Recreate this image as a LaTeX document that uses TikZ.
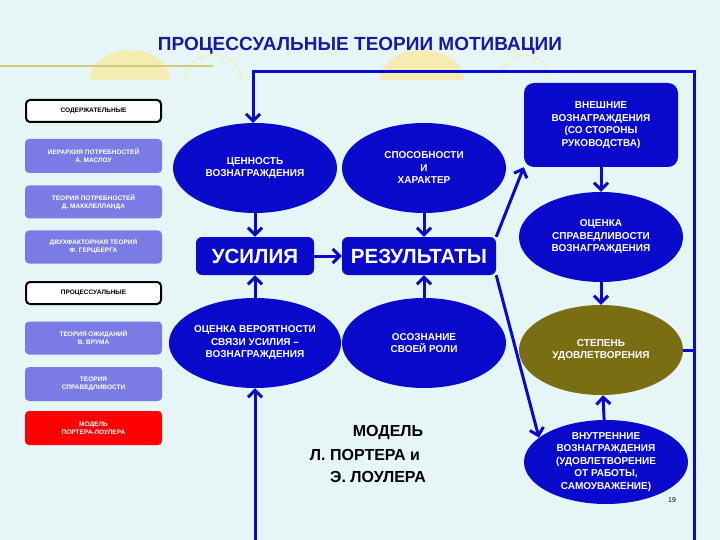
\documentclass[tikz,border=0pt]{standalone}
\usepackage{fontspec}
\setmainfont{Liberation Sans}
\usetikzlibrary{arrows.meta,shapes.geometric}
\definecolor{bg}{HTML}{E6F6F6}
\definecolor{bl}{HTML}{0A0ACC}
\definecolor{lil}{HTML}{7B7BE6}
\definecolor{olv}{HTML}{7A6E12}
\definecolor{ttl}{HTML}{1A1AA0}
\definecolor{pale}{HTML}{F4ECB0}
\tikzset{
 ell/.style={ellipse,fill=bl,text=white,font=\bfseries\fontsize{10}{12.5}\selectfont,align=center,minimum width=164pt,minimum height=90pt,inner sep=0pt},
 rbox/.style={rectangle,rounded corners=6pt,fill=bl,text=white,font=\bfseries\fontsize{20.5}{22}\selectfont,inner sep=0pt},
 lbox/.style={rectangle,rounded corners=4pt,fill=lil,text=white,font=\bfseries\fontsize{6.5}{8}\selectfont,align=center,minimum width=137pt,inner sep=0pt},
 hbox/.style={rectangle,rounded corners=4pt,fill=white,draw=black,line width=2pt,text=black,font=\bfseries\fontsize{6.5}{8}\selectfont,minimum width=135pt,minimum height=22pt,inner sep=0pt},
 arr/.style={draw=bl,line width=3pt,-{Straight Barb[length=7pt,width=14pt,line width=3pt]}},
 ln/.style={draw=bl,line width=3pt},
 mt/.style={font=\bfseries\fontsize{16}{18}\selectfont,text=black}
}
\begin{document}
\begin{tikzpicture}[x=1pt,y=-1pt]
\fill[bg] (0,0) rectangle (720,540);
\useasboundingbox (0,0) rectangle (720,540);
% faint decorations
\fill[pale] (90,80) arc[start angle=180,end angle=360,x radius=40,y radius=30] -- cycle;
\fill[pale] (380,80) arc[start angle=180,end angle=360,x radius=42,y radius=30] -- cycle;
\draw[pale,line width=1pt] (185,80) arc[start angle=180,end angle=360,x radius=28,y radius=25];
\draw[pale,line width=1pt] (500,80) arc[start angle=180,end angle=360,x radius=25,y radius=25];
\node[font=\bfseries\fontsize{19}{21}\selectfont,text=ttl] (title) at (360,46) {ПРОЦЕССУАЛЬНЫЕ ТЕОРИИ МОТИВАЦИИ};
\draw[color=pale!70!olive,line width=1.5pt] (0,66) -- (213,66);
% left panel
\node[hbox] (h1) at (93.5,111) {СОДЕРЖАТЕЛЬНЫЕ};
\node[lbox,minimum height=34pt] (l2) at (93.5,156) {ИЕРАРХИЯ ПОТРЕБНОСТЕЙ\\А. МАСЛОУ};
\node[lbox,minimum height=33pt] (l3) at (93.5,202) {ТЕОРИЯ ПОТРЕБНОСТЕЙ\\Д. МАККЛЕЛЛАНДА};
\node[lbox,minimum height=33pt] (l4) at (93.5,247) {ДВУХФАКТОРНАЯ ТЕОРИЯ\\Ф. ГЕРЦБЕРГА};
\node[hbox] (h2) at (93.5,293) {ПРОЦЕССУАЛЬНЫЕ};
\node[lbox,minimum height=33pt] (l6) at (93.5,338) {ТЕОРИЯ ОЖИДАНИЙ\\В. ВРУМА};
\node[lbox,minimum height=34pt] (l7) at (93.5,384) {ТЕОРИЯ\\СПРАВЕДЛИВОСТИ};
\node[lbox,minimum height=34pt,fill=red] (l8) at (93.5,428) {МОДЕЛЬ\\ПОРТЕРА-ЛОУЛЕРА};
% main nodes
\node[ell] (cen) at (255,168) {ЦЕННОСТЬ\\ВОЗНАГРАЖДЕНИЯ};
\node[ell] (spo) at (424,168) {СПОСОБНОСТИ\\И\\ХАРАКТЕР};
\node[rbox,minimum width=118pt,minimum height=38pt] (usi) at (255,256) {УСИЛИЯ};
\node[rbox,minimum width=154pt,minimum height=38pt] (rez) at (419,256) {РЕЗУЛЬТАТЫ};
\node[ell] (ver) at (255,343) {ОЦЕНКА ВЕРОЯТНОСТИ\\СВЯЗИ УСИЛИЯ –\\ВОЗНАГРАЖДЕНИЯ};
\node[ell] (oso) at (424,343) {ОСОЗНАНИЕ\\СВОЕЙ РОЛИ};
\node[rectangle,rounded corners=10pt,fill=bl,text=white,font=\bfseries\fontsize{10}{12.5}\selectfont,align=center,minimum width=154pt,minimum height=84pt] (vne) at (601,125) {ВНЕШНИЕ\\ВОЗНАГРАЖДЕНИЯ\\(СО СТОРОНЫ\\РУКОВОДСТВА)};
\node[ell] (spr) at (601,237) {ОЦЕНКА\\СПРАВЕДЛИВОСТИ\\ВОЗНАГРАЖДЕНИЯ};
\node[ell,fill=olv] (ste) at (601,350) {СТЕПЕНЬ\\УДОВЛЕТВОРЕНИЯ};
\node[ell,minimum height=84pt] (vnu) at (606,462) {ВНУТРЕННИЕ\\ВОЗНАГРАЖДЕНИЯ\\(УДОВЛЕТВОРЕНИЕ\\ОТ РАБОТЫ,\\САМОУВАЖЕНИЕ)};
\node[mt] (m1) at (388,433) {МОДЕЛЬ};
\node[mt] (m2) at (365,455) {Л. ПОРТЕРА и};
\node[mt] (m3) at (378,477) {Э. ЛОУЛЕРА};
\node[font=\fontsize{7}{8}\selectfont] (pg) at (672,500) {19};
% frame
\coordinate (tl) at (253,72);
\coordinate (tr) at (694,72);
\coordinate (br) at (694,545);
\coordinate (bl0) at (255,545);
\coordinate (sr) at (694,350);
\draw[ln] (ste.east) -- (sr);
\draw[ln] (br) -- (tr) -- (tl) -- ++(0,2);
\draw[arr] (253,72) -- (253,123);
\draw[arr] (bl0) -- (ver.south);
% arrows
\draw[arr] (cen) -- (usi);
\draw[arr] (spo) -- (rez.north -| spo);
\draw[arr] (usi) -- (rez);
\draw[arr] (ver) -- (usi);
\draw[arr] (oso) -- (rez.south -| oso);
\draw[arr] (rez.north east) -- (vne.south west);
\draw[arr] (rez.south east) -- (vnu.160);
\draw[arr] (vne) -- (spr);
\draw[arr] (spr) -- (ste);
\draw[arr] (vnu) -- (ste);
\end{tikzpicture}
\end{document}
